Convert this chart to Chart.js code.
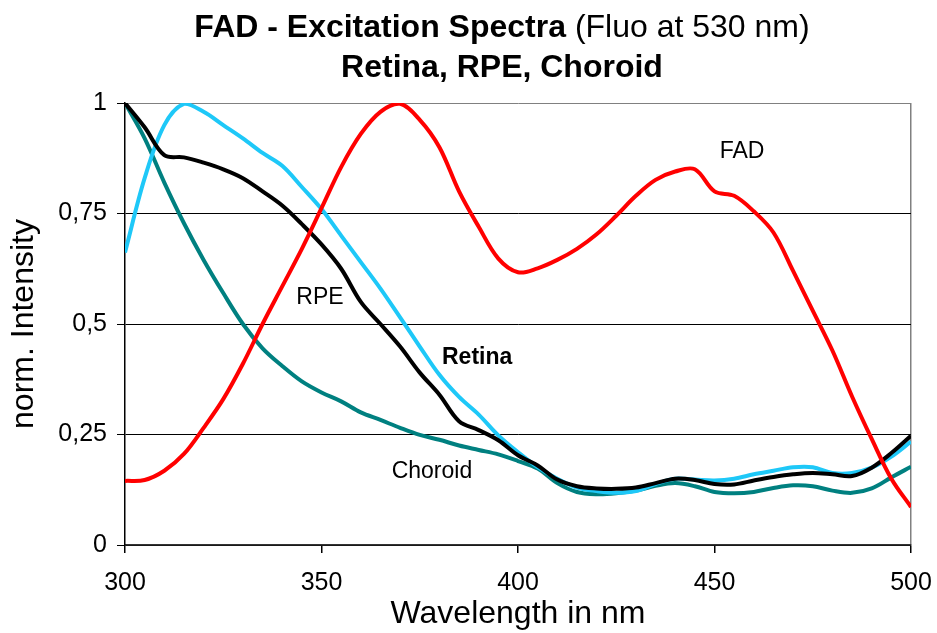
<!DOCTYPE html>
<html lang="en">
<head>
    <meta charset="UTF-8">
    <title>FAD - Excitation Spectra</title>
    <script src="https://cdn.jsdelivr.net/npm/chart.js"></script>
    <style>
        body { margin: 0; background: #fff; }
        #wrap { width: 937px; height: 633px; }
    </style>
</head>
<body>
    <div id="wrap"><canvas id="fadChart" width="937" height="633"></canvas></div>
    <script>
        const FONT = "'Liberation Sans', Arial, sans-serif";

        // wavelengths (nm), 5 nm steps
        const wavelengths = [300, 305, 310, 315, 320, 325, 330, 335, 340, 345, 350, 355, 360, 365, 370, 375, 380, 385, 390, 395,
            400, 405, 410, 415, 420, 425, 430, 435, 440, 445, 450, 455, 460, 465, 470, 475, 480, 485, 490, 495, 500];

        const fad = [0.145, 0.147, 0.168, 0.206, 0.265, 0.33, 0.41, 0.50, 0.585, 0.67, 0.762, 0.855, 0.93, 0.98, 0.998, 0.962, 0.9, 0.80, 0.72, 0.648,
            0.617, 0.626, 0.645, 0.67, 0.703, 0.745, 0.79, 0.826, 0.845, 0.85, 0.80, 0.79, 0.755, 0.707, 0.62, 0.53, 0.44, 0.336, 0.24, 0.15, 0.086];

        const retina = [1.0, 0.945, 0.882, 0.877, 0.865, 0.85, 0.83, 0.80, 0.768, 0.726, 0.68, 0.625, 0.55, 0.50, 0.449, 0.39, 0.34, 0.28, 0.26, 0.237,
            0.203, 0.18, 0.148, 0.133, 0.128, 0.127, 0.13, 0.14, 0.15, 0.147, 0.138, 0.137, 0.146, 0.154, 0.16, 0.163, 0.16, 0.156, 0.175, 0.208, 0.247];

        const rpe = [0.662, 0.83, 0.95, 0.998, 0.98, 0.95, 0.92, 0.887, 0.858, 0.81, 0.76, 0.70, 0.64, 0.58, 0.515, 0.449, 0.385, 0.335, 0.295, 0.248,
            0.21, 0.176, 0.15, 0.13, 0.122, 0.118, 0.122, 0.138, 0.15, 0.148, 0.146, 0.15, 0.16, 0.168, 0.176, 0.176, 0.163, 0.163, 0.175, 0.2, 0.234];

        const choroid = [1.0, 0.92, 0.82, 0.728, 0.645, 0.57, 0.50, 0.445, 0.405, 0.37, 0.345, 0.325, 0.30, 0.283, 0.265, 0.249, 0.238, 0.225, 0.215, 0.205,
            0.19, 0.173, 0.14, 0.12, 0.115, 0.117, 0.123, 0.134, 0.14, 0.133, 0.12, 0.117, 0.12, 0.129, 0.135, 0.133, 0.123, 0.118, 0.128, 0.153, 0.177];

        // curve labels inside the plot (text, wavelength, intensity, bold)
        const labelTexts = ["FAD", "RPE", "Retina", "Choroid"];
        const labelX = [457, 349.6, 389.6, 378.1];
        const labelY = [0.89, 0.56, 0.424, 0.166];
        const labelBold = [false, false, true, false];

        function pts(arr) {
            return arr.map((v, i) => ({ x: wavelengths[i], y: v }));
        }

        const titlePlugin = {
            id: 'titleAndLabels',
            afterDraw(chart) {
                const c = chart.ctx;
                c.save();
                c.fillStyle = '#000';
                c.textBaseline = 'alphabetic';
                const boldPart = 'FAD - Excitation Spectra';
                const normPart = ' (Fluo at 530 nm)';
                c.font = 'bold 32px ' + FONT;
                const w1 = c.measureText(boldPart).width;
                c.font = '32px ' + FONT;
                const w2 = c.measureText(normPart).width;
                let x0 = 502 - (w1 + w2) / 2;
                c.textAlign = 'left';
                c.font = 'bold 32px ' + FONT;
                c.fillText(boldPart, x0, 37);
                c.font = '32px ' + FONT;
                c.fillText(normPart, x0 + w1, 37);
                c.textAlign = 'center';
                c.font = 'bold 32px ' + FONT;
                c.fillText('Retina, RPE, Choroid', 502, 77);

                const xs = chart.scales.x, ys = chart.scales.y;
                c.textBaseline = 'middle';
                labelTexts.forEach((t, i) => {
                    c.font = (labelBold[i] ? 'bold ' : '') + '23px ' + FONT;
                    c.fillText(t, xs.getPixelForValue(labelX[i]), ys.getPixelForValue(labelY[i]));
                });
                c.restore();
            }
        };

        const ds = (label, data, color, order) => ({
            label, data: pts(data), borderColor: color, backgroundColor: color,
            borderWidth: 4, pointRadius: 0, fill: false, tension: 0.35, order
        });

        new Chart(document.getElementById('fadChart'), {
            type: 'line',
            data: {
                datasets: [
                    ds('FAD', fad, '#ff0000', 0),
                    ds('Retina', retina, '#000000', 1),
                    ds('RPE', rpe, '#1ec8f8', 2),
                    ds('Choroid', choroid, '#008080', 3)
                ]
            },
            options: {
                responsive: false,
                animation: false,
                layout: { padding: { top: 103, right: 26, left: 0, bottom: 0 } },
                plugins: { legend: { display: false }, tooltip: { enabled: false } },
                scales: {
                    x: {
                        type: 'linear', min: 300, max: 500,
                        afterFit: s => { s.height = 88; s.paddingLeft = 0; s.paddingRight = 0; },
                        ticks: { stepSize: 50, color: '#000', font: { family: FONT, size: 25 }, padding: 15, maxRotation: 0 },
                        grid: {
                            color: c => c.tick && c.tick.value === 500 ? '#808080' : 'rgba(0,0,0,0)',
                            tickColor: '#000', tickLength: 8, lineWidth: 1.5
                        },
                        border: { color: '#333', width: 1.5 },
                        title: { display: true, text: 'Wavelength in nm', color: '#000', font: { family: FONT, size: 32, lineHeight: 1.0 }, padding: { top: 0, bottom: 3 } }
                    },
                    y: {
                        min: 0, max: 1,
                        afterFit: s => { s.width = 125; },
                        ticks: {
                            stepSize: 0.25, color: '#000', font: { family: FONT, size: 25 }, padding: 10,
                            callback: v => String(v).replace('.', ',')
                        },
                        grid: {
                            color: c => c.tick && c.tick.value === 1 ? '#808080' : '#000',
                            tickColor: '#000', tickLength: 8, lineWidth: 1
                        },
                        border: { color: '#000', width: 1.5 },
                        title: { display: true, text: 'norm. Intensity', color: '#000', font: { family: FONT, size: 32 }, padding: { top: 5, bottom: 0 } }
                    }
                }
            },
            plugins: [titlePlugin]
        });
    </script>
</body>
</html>
